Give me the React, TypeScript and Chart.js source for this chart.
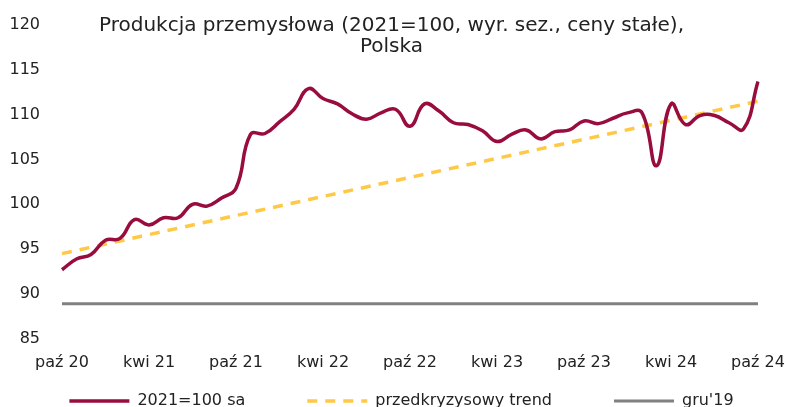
import { useEffect, useRef } from "react";
import { Chart, registerables } from "chart.js";

Chart.register(...registerables);

const months = [
  "paź 20", "lis 20", "gru 20", "sty 21", "lut 21", "mar 21", "kwi 21", "maj 21", "cze 21", "lip 21", "sie 21", "wrz 21",
  "paź 21", "lis 21", "gru 21", "sty 22", "lut 22", "mar 22", "kwi 22", "maj 22", "cze 22", "lip 22", "sie 22", "wrz 22",
  "paź 22", "lis 22", "gru 22", "sty 23", "lut 23", "mar 23", "kwi 23", "maj 23", "cze 23", "lip 23", "sie 23", "wrz 23",
  "paź 23", "lis 23", "gru 23", "sty 24", "lut 24", "mar 24", "kwi 24", "maj 24", "cze 24", "lip 24", "sie 24", "wrz 24",
  "paź 24",
];
const tickEvery = 6;

const productionValues = [
  92.7, 93.9, 94.4, 96.0, 96.2, 98.3, 97.7, 98.5, 98.5, 100.0, 99.8, 100.7,
  101.8, 107.8, 107.9, 109.2, 110.6, 112.9, 111.8, 111.2, 110.1, 109.5, 110.2, 110.6,
  108.7, 111.2, 110.4, 109.1, 108.9, 108.2, 107.0, 107.8, 108.3, 107.3, 108.1, 108.3,
  109.3, 109.0, 109.6, 110.2, 110.2, 104.3, 111.2, 108.9, 109.9, 109.9, 109.1, 108.4,
  113.7,
];
// trend and baseline: values at the first and the last month
const trendValues = [94.5, 111.5];
const baselineValues = [88.9, 88.9];

const seriesNames = ["2021=100 sa", "przedkryzysowy trend", "gru'19"];
const titleLines = ["Produkcja przemysłowa (2021=100, wyr. sez., ceny stałe),", "Polska"];
const yMin = 85;
const yMax = 120;
const yStep = 5;

const FONT = '"DejaVu Sans", Verdana, sans-serif';
const TEXT = "#222222";

const titlePlugin = {
  id: "overlayTitle",
  afterDraw(chart: any) {
    const ctx = chart.ctx;
    ctx.save();
    ctx.font = `20px ${FONT}`;
    ctx.fillStyle = TEXT;
    ctx.textAlign = "center";
    ctx.textBaseline = "alphabetic";
    titleLines.forEach((line, i) => {
      ctx.fillText(line, chart.width / 2 - 1, 31 + i * 21);
    });
    ctx.restore();
  },
};

const legendPlugin = {
  id: "bottomLegend",
  afterDraw(chart: any) {
    const ctx = chart.ctx;
    ctx.save();
    ctx.font = `16px ${FONT}`;
    const boxW = 60;
    const gap = 8;
    const spacing = 62;
    const items = chart.data.datasets.map((ds: any) => ({
      ds,
      w: boxW + gap + ctx.measureText(ds.label).width,
    }));
    const total = items.reduce((s: number, it: any) => s + it.w, 0) + spacing * (items.length - 1);
    let x = (chart.width - total) / 2 + 9;
    const y = 401;
    items.forEach((it: any) => {
      const ds = it.ds;
      ctx.save();
      ctx.strokeStyle = ds.borderColor;
      ctx.lineWidth = ds.borderWidth;
      ctx.setLineDash(ds.borderDash || []);
      ctx.beginPath();
      ctx.moveTo(x, y);
      ctx.lineTo(x + boxW, y);
      ctx.stroke();
      ctx.restore();
      ctx.fillStyle = TEXT;
      ctx.textAlign = "left";
      ctx.textBaseline = "middle";
      ctx.fillText(ds.label, x + boxW + gap, y);
      x += it.w + spacing;
    });
    ctx.restore();
  },
};

export default function App() {
  const canvasRef = useRef<HTMLCanvasElement | null>(null);

  useEffect(() => {
    if (!canvasRef.current) return;
    const last = months.length - 1;
    const chart = new Chart(canvasRef.current, {
      type: "line",
      data: {
        labels: months,
        datasets: [
          {
            label: seriesNames[0],
            data: productionValues,
            borderColor: "#990c3e",
            backgroundColor: "#990c3e",
            borderWidth: 3.5,
            pointRadius: 0,
            tension: 0.45,
            order: 1,
          },
          {
            label: seriesNames[1],
            data: [
              { x: months[0], y: trendValues[0] },
              { x: months[last], y: trendValues[1] },
            ],
            borderColor: "#ffc947",
            backgroundColor: "#ffc947",
            borderWidth: 3.5,
            borderDash: [10, 8],
            pointRadius: 0,
            order: 2,
          },
          {
            label: seriesNames[2],
            data: [
              { x: months[0], y: baselineValues[0] },
              { x: months[last], y: baselineValues[1] },
            ],
            borderColor: "#808080",
            backgroundColor: "#808080",
            borderWidth: 3,
            pointRadius: 0,
            order: 3,
          },
        ],
      },
      options: {
        animation: false,
        responsive: true,
        maintainAspectRatio: false,
        layout: { padding: { left: 10, right: 0, top: 0, bottom: 34 } },
        plugins: {
          legend: { display: false },
          title: { display: false },
          tooltip: { enabled: false },
        },
        scales: {
          x: {
            type: "category",
            offset: false,
            grid: { display: false, drawTicks: false },
            border: { display: false },
            afterFit: (scale: any) => {
              scale.paddingRight = 27;
            },
            ticks: {
              autoSkip: false,
              maxRotation: 0,
              minRotation: 0,
              padding: 14,
              color: TEXT,
              font: { family: FONT, size: 16 },
              callback: (_v: any, i: number) => (i % tickEvery === 0 ? months[i] : null),
            },
          },
          y: {
            min: yMin,
            max: yMax,
            grid: { display: false, drawTicks: false },
            border: { display: false },
            afterFit: (scale: any) => {
              scale.width = 52;
              scale.paddingTop = 25;
              scale.paddingBottom = 0;
            },
            ticks: {
              stepSize: yStep,
              padding: 22,
              color: TEXT,
              font: { family: FONT, size: 16 },
            },
          },
        },
      },
      plugins: [titlePlugin, legendPlugin],
    });
    return () => chart.destroy();
  }, []);

  return (
    <div style={{ position: "absolute", left: 0, top: 0, width: 785, height: 420, background: "#fff" }}>
      <canvas ref={canvasRef} />
    </div>
  );
}
